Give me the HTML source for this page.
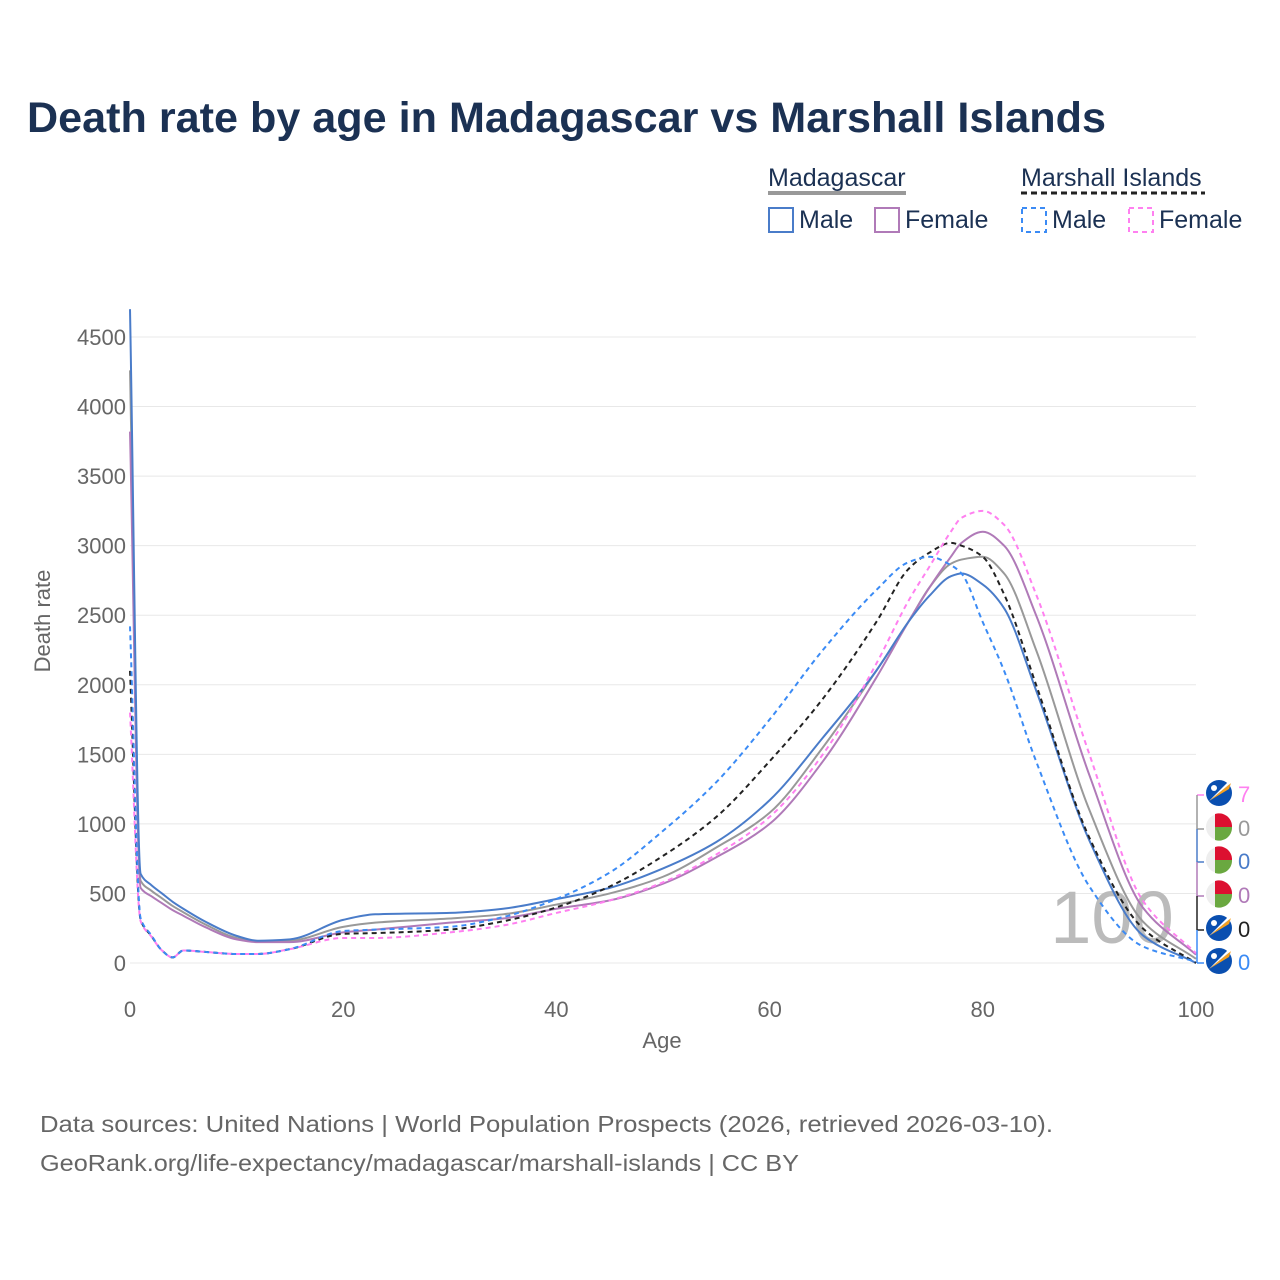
<!DOCTYPE html>
<html><head><meta charset="utf-8">
<style>
body{margin:0;background:#fff;font-family:"Liberation Sans",sans-serif;}
#wrap{position:relative;width:1280px;height:1280px;overflow:hidden;}
</style></head>
<body>
<div id="wrap">
<svg id="chart" width="1280" height="1280" xmlns="http://www.w3.org/2000/svg">
<text x="27" y="132" font-size="43" font-weight="bold" fill="#1b3153" textLength="1079" lengthAdjust="spacingAndGlyphs">Death rate by age in Madagascar vs Marshall Islands</text>
<g>
<text x="768" y="186" font-size="25" fill="#1b3153">Madagascar</text>
<line x1="768" x2="906" y1="193" y2="193" stroke="#999" stroke-width="4"/>
<text x="1021" y="186" font-size="25" fill="#1b3153">Marshall Islands</text>
<line x1="1021" x2="1205" y1="193" y2="193" stroke="#222" stroke-width="3" stroke-dasharray="6,4"/>
<g><rect x="769" y="208" width="24" height="24" fill="none" stroke="#4a7cc9" stroke-width="2"/><text x="799" y="228" font-size="25" fill="#1b3153">Male</text></g>
<g><rect x="875" y="208" width="24" height="24" fill="none" stroke="#b07ab8" stroke-width="2"/><text x="905" y="228" font-size="25" fill="#1b3153">Female</text></g>
<g><rect x="1022" y="208" width="24" height="24" fill="none" stroke="#3b8bf5" stroke-width="2" stroke-dasharray="5,4"/><text x="1052" y="228" font-size="25" fill="#1b3153">Male</text></g>
<g><rect x="1129" y="208" width="24" height="24" fill="none" stroke="#ff80f0" stroke-width="2" stroke-dasharray="5,4"/><text x="1159" y="228" font-size="25" fill="#1b3153">Female</text></g>
</g>
<g id="grid"></g>
<g id="yticks"></g>
<g id="xticks"></g>
<text x="662" y="1048" font-size="22" fill="#666" text-anchor="middle">Age</text>
<text transform="translate(50,621) rotate(-90)" font-size="22" fill="#666" text-anchor="middle">Death rate</text>
<text x="1112" y="943" font-size="74" fill="#bbb" text-anchor="middle">100</text>
<g id="series"></g>
<g id="endmarks"></g>
<text x="40" y="1132" font-size="23" fill="#666" textLength="1013" lengthAdjust="spacingAndGlyphs">Data sources: United Nations | World Population Prospects (2026, retrieved 2026-03-10).</text>
<text x="40" y="1171" font-size="23" fill="#666" textLength="759" lengthAdjust="spacingAndGlyphs">GeoRank.org/life-expectancy/madagascar/marshall-islands | CC BY</text>
</svg>
</div>
<script>
const yTicks=[0,500,1000,1500,2000,2500,3000,3500,4000,4500];
const xTicks=[0,20,40,60,80,100];
const ages=[0,1,2,3,4,5,7,10,12,15,20,23,30,35,40,45,50,55,60,65,70,73,75,77,78,80,82,85,90,95,100];
const mdgMale=[4700,640,560,500,440,390,300,195,160,170,310,350,360,390,460,540,680,870,1170,1620,2100,2450,2640,2780,2800,2720,2550,1960,880,200,0];
const mdgFemale=[3820,540,480,430,380,340,260,170,150,150,220,240,290,320,390,450,570,760,1000,1450,2050,2450,2700,2920,3020,3100,3000,2500,1350,400,60];
const mdgTotal=[4260,590,520,465,410,365,280,180,155,160,260,290,320,350,420,500,620,830,1080,1550,2100,2450,2700,2870,2900,2920,2800,2250,1100,300,30];
const mhlMale=[2420,320,200,90,40,90,80,65,65,100,230,240,260,330,460,650,950,1300,1750,2250,2680,2880,2920,2860,2800,2450,2100,1450,550,120,10];
const mhlFemale=[1800,300,190,90,40,90,80,65,65,100,180,180,220,270,360,450,580,780,1050,1500,2150,2600,2850,3100,3200,3250,3150,2650,1500,450,70];
const mhlTotal=[2100,310,195,90,40,90,80,65,65,100,210,215,240,300,400,550,770,1050,1450,1900,2450,2830,2950,3020,3000,2920,2650,2000,900,250,0];
const endVals=["7","0","0","0","0","0"];
const NS="http://www.w3.org/2000/svg";
const X=a=>130+a*(1196-130)/100;
const Y=v=>963-v*(963-337)/4500;
function el(t,attrs,parent){const e=document.createElementNS(NS,t);for(const k in attrs)e.setAttribute(k,attrs[k]);parent.appendChild(e);return e;}
const grid=document.getElementById('grid'),yg=document.getElementById('yticks'),xg=document.getElementById('xticks');
yTicks.forEach(v=>{
  const l=el('line',{x1:130,x2:1196,y1:Y(v),y2:Y(v),stroke:'#e8e8e8','stroke-width':1},grid);
  
  
  const t=el('text',{x:126,y:Y(v)+8,'font-size':22,fill:'#666','text-anchor':'end'},yg);
  t.textContent=v;
  
  
});
xTicks.forEach(v=>{
  const t=el('text',{x:X(v),y:1017,'font-size':22,fill:'#666','text-anchor':'middle'},xg);
  t.textContent=v;
  
  
});
function pathFor(vals){
  const xs=ages.map(X), ys=vals.map(Y), n=xs.length;
  const d=[],m=[];
  for(let i=0;i<n-1;i++)d.push((ys[i+1]-ys[i])/(xs[i+1]-xs[i]));
  m[0]=d[0];m[n-1]=d[n-2];
  for(let i=1;i<n-1;i++){
    if(d[i-1]*d[i]<=0)m[i]=0;
    else{const w1=2*(xs[i+1]-xs[i])+(xs[i]-xs[i-1]),w2=(xs[i+1]-xs[i])+2*(xs[i]-xs[i-1]);m[i]=(w1+w2)/(w1/d[i-1]+w2/d[i]);}
  }
  let s='M'+xs[0]+','+ys[0];
  for(let i=0;i<n-1;i++){
    const h=(xs[i+1]-xs[i])/3;
    s+=' C'+(xs[i]+h)+','+(ys[i]+m[i]*h)+' '+(xs[i+1]-h)+','+(ys[i+1]-m[i+1]*h)+' '+xs[i+1]+','+ys[i+1];
  }
  return s;
}
const S=document.getElementById('series');
const defs=[
 [mdgTotal,'#999',null,'line-madagascar-total'],
 [mdgFemale,'#b07ab8',null,'line-madagascar-female'],
 [mdgMale,'#4a7cc9',null,'line-madagascar-male'],
 [mhlTotal,'#222','5,4','line-marshall-total'],
 [mhlFemale,'#ff80f0','5,4','line-marshall-female'],
 [mhlMale,'#3b8bf5','5,4','line-marshall-male']
];
defs.forEach(([v,c,dash,n])=>{
  const a={d:pathFor(v),fill:'none',stroke:c,'stroke-width':2};
  if(dash)a['stroke-dasharray']=dash;
  const p=el('path',a,S);
  
  
});
const E=document.getElementById('endmarks');
const marks=[[795,'#ff80f0','mhl'],[829,'#999','mdg'],[862,'#4a7cc9','mdg'],[896,'#b07ab8','mdg'],[930,'#222','mhl'],[963,'#3b8bf5','mhl']];
marks.forEach(([y,c,f],i)=>{
  const top=i===0?795:marks[i-1][0];
  el('line',{x1:1197,x2:1197,y1:top,y2:y,stroke:c,'stroke-width':1.5},E);
  el('line',{x1:1197,x2:1204,y1:y,y2:y,stroke:c,'stroke-width':1.5},E);
  const cx=1219,cy=y-2;
  if(f==='mhl'){
    el('circle',{cx:cx,cy:cy,r:13,fill:'#0a4fb0'},E);
    el('path',{d:`M${cx-10},${cy+8} L${cx+12},${cy-10} L${cx+10},${cy-4} Z`,fill:'#f5a020'},E);
    el('path',{d:`M${cx-10},${cy+8} L${cx+12},${cy-10} L${cx+11},${cy-13} Z`,fill:'#fff'},E);
    el('circle',{cx:cx-5,cy:cy-5,r:3,fill:'#fff'},E);
  }else{
    el('circle',{cx:cx,cy:cy,r:13,fill:'#eee'},E);
    el('path',{d:`M${cx-4},${cy-13} A13,13 0 0 1 ${cx+13},${cy} L${cx-4},${cy} Z`,fill:'#dc1030'},E);
    el('path',{d:`M${cx-4},${cy} L${cx+13},${cy} A13,13 0 0 1 ${cx-4},${cy+13} Z`,fill:'#6aa840'},E);
  }
  const t=el('text',{x:1238,y:y+7,'font-size':22,fill:c},E);
  t.textContent=endVals[i];
  
  
});
</script>
</body></html>
